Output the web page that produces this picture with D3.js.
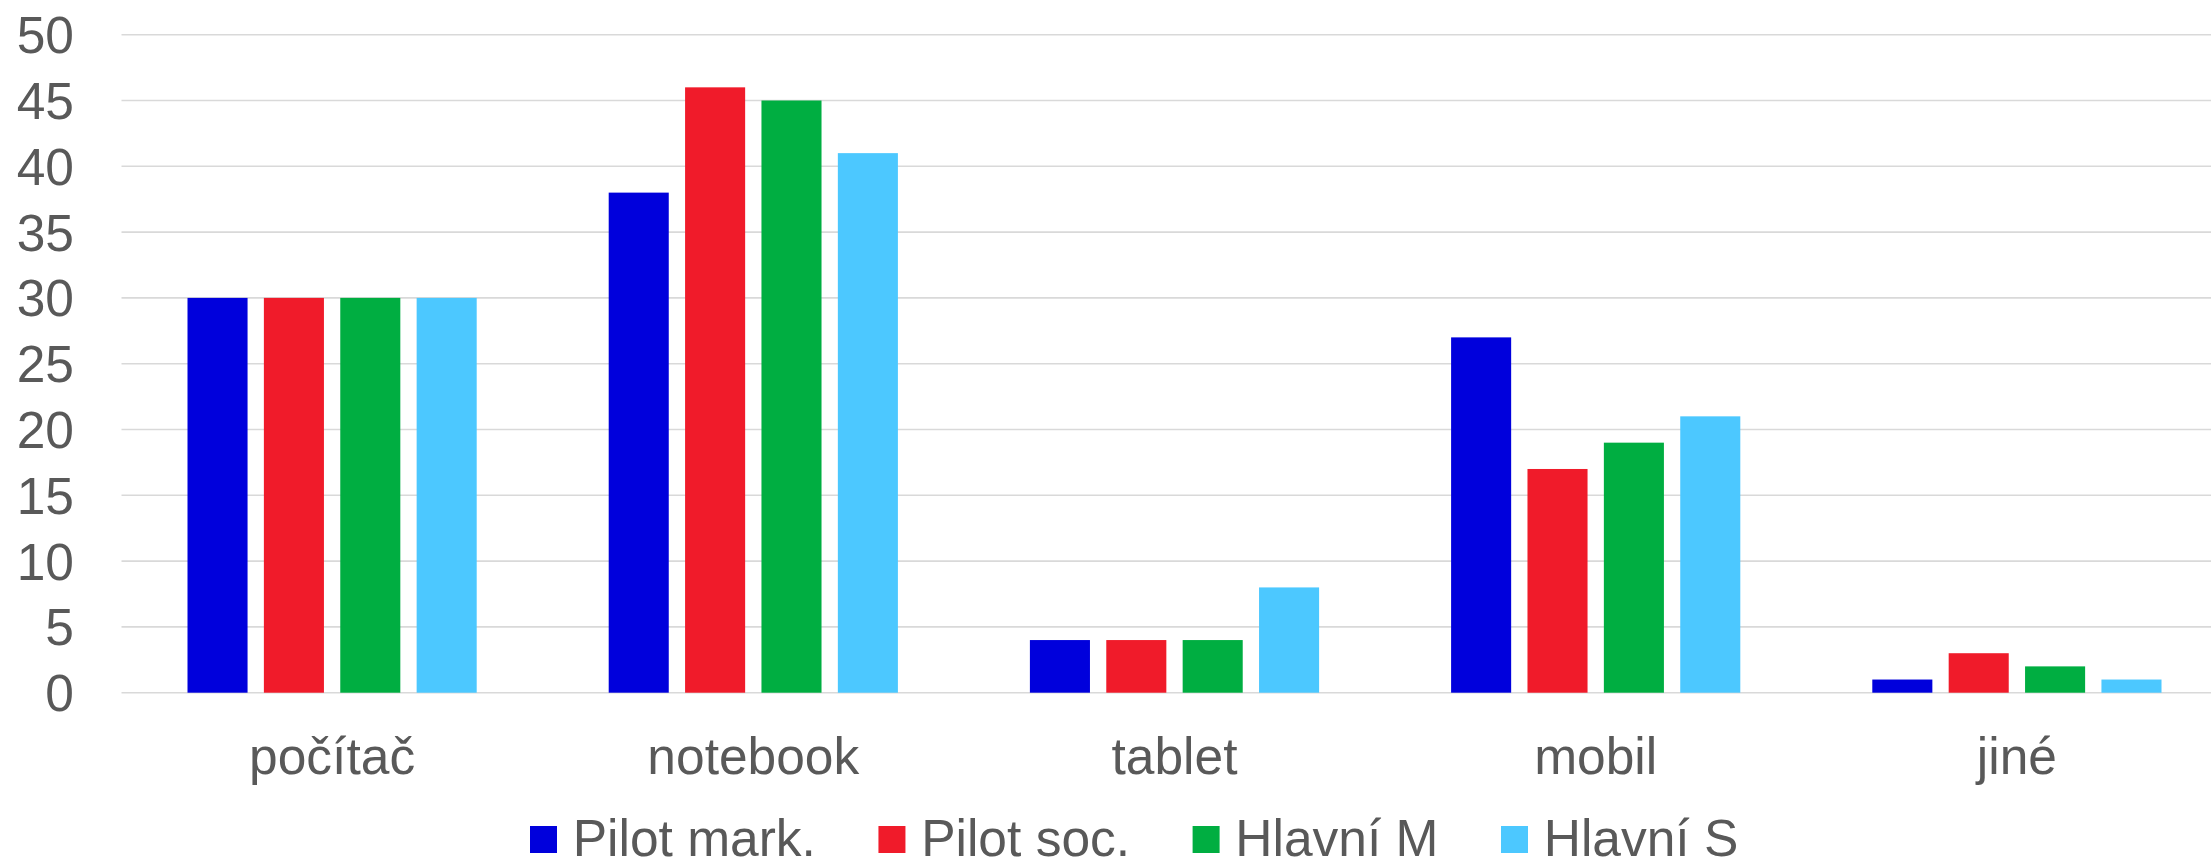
<!DOCTYPE html>
<html>
<head>
<meta charset="utf-8">
<script src="https://cdn.jsdelivr.net/npm/d3@7"></script>
<style>
  html, body { margin: 0; padding: 0; background: #ffffff; }
  svg { display: block; }
  text { font-family: "Liberation Sans", Arial, sans-serif; fill: #595959; }
</style>
</head>
<body>
<svg id="chart" width="2211" height="861"></svg>
<script>
// Device categories and survey series
const categories = ["počítač", "notebook", "tablet", "mobil", "jiné"];
const seriesNames = ["Pilot mark.", "Pilot soc.", "Hlavní M", "Hlavní S"];
const seriesColors = ["#0000dc", "#f01b2a", "#00ae41", "#4cc8ff"];
const pilotMark = [30, 38, 4, 27, 1];
const pilotSoc  = [30, 46, 4, 17, 3];
const hlavniM   = [30, 45, 4, 19, 2];
const hlavniS   = [30, 41, 8, 21, 1];
const yTicks = [0, 5, 10, 15, 20, 25, 30, 35, 40, 45, 50];

const seriesValues = [pilotMark, pilotSoc, hlavniM, hlavniS];
const rows = categories.map((c, i) => ({
  category: c,
  values: seriesNames.map((s, j) => ({ series: s, color: seriesColors[j], value: seriesValues[j][i] }))
}));

const svg = d3.select("#chart");
const W = 2211;
const plotLeft = 121.5, plotRight = 2227.5;
const yBottom = 692.7, yTop = 34.7;
const fontSize = 51.5;

const x0 = d3.scaleBand().domain(categories).range([plotLeft, plotRight]).padding(0);
const groupPad = 66;
const x1 = d3.scaleBand().domain(seriesNames)
  .range([groupPad, x0.bandwidth() - groupPad])
  .paddingInner(0.2137).paddingOuter(0);
const y = d3.scaleLinear().domain([0, 50]).range([yBottom, yTop]);

// Horizontal gridlines
svg.append("g").selectAll("line").data(yTicks).join("line")
  .attr("x1", plotLeft).attr("x2", W)
  .attr("y1", d => y(d)).attr("y2", d => y(d))
  .attr("stroke", "#d9d9d9").attr("stroke-width", 1.6);

// Y axis labels
const yAxis = d3.axisLeft(y).tickValues(yTicks).tickSize(0).tickPadding(0);
const yg = svg.append("g").attr("transform", "translate(74,0)").call(yAxis);
yg.select(".domain").remove();
yg.selectAll("text")
  .attr("font-size", fontSize)
  .attr("font-family", "Liberation Sans, Arial, sans-serif")
  .attr("fill", "#595959")
  .attr("dy", "0.35em");

// Bars
const groups = svg.append("g").selectAll("g").data(rows).join("g")
  .attr("transform", d => `translate(${x0(d.category)},0)`);
groups.selectAll("rect").data(d => d.values).join("rect")
  .attr("x", d => x1(d.series))
  .attr("width", x1.bandwidth())
  .attr("y", d => y(d.value))
  .attr("height", d => y(0) - y(d.value))
  .attr("fill", d => d.color);

// Category labels
const xAxis = d3.axisBottom(x0).tickSize(0).tickPadding(0);
const xg = svg.append("g").attr("transform", "translate(0,774)").call(xAxis);
xg.select(".domain").remove();
xg.selectAll("text")
  .attr("font-size", fontSize)
  .attr("font-family", "Liberation Sans, Arial, sans-serif")
  .attr("fill", "#595959")
  .attr("y", 0).attr("dy", 0);

// Legend
const legend = svg.append("g");
let lx = 530;
seriesNames.forEach((name, i) => {
  legend.append("rect")
    .attr("x", lx).attr("y", 826).attr("width", 27).attr("height", 27)
    .attr("fill", seriesColors[i]);
  const t = legend.append("text")
    .attr("x", lx + 27 + 15.7).attr("y", 856)
    .attr("font-size", fontSize)
    .text(name);
  lx = lx + 27 + 15.7 + t.node().getComputedTextLength() + 62.5;
});
</script>
</body>
</html>
